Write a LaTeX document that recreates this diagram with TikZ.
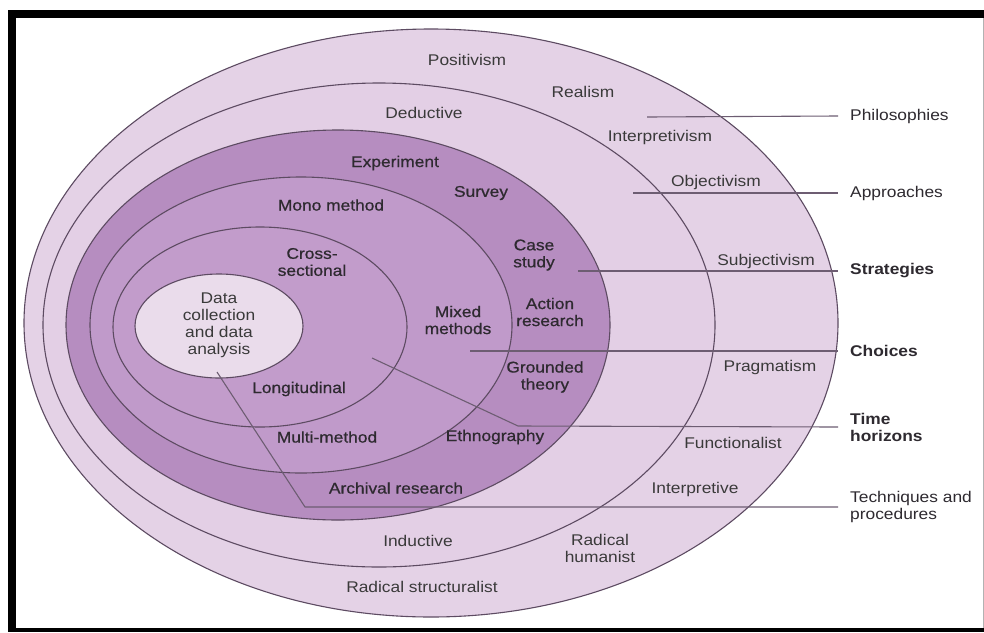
\documentclass[tikz,border=0pt]{standalone}
\usepackage{fontspec}
\setmainfont{Liberation Sans}[FakeStretch=1.12]
\newfontfamily\semibfam{Liberation Sans}[FakeStretch=1.12, FakeBold=0.7]
\definecolor{ringA}{HTML}{E4D2E6}
\definecolor{ringB}{HTML}{E3CFE5}
\definecolor{ringC}{HTML}{B68DC0}
\definecolor{ringD}{HTML}{C09ACA}
\definecolor{ringE}{HTML}{C29CCB}
\definecolor{core}{HTML}{EADCEB}
\definecolor{edge}{HTML}{5D4B62}
\definecolor{txt}{HTML}{3A3A3A}
\definecolor{txtdark}{HTML}{2E2A30}
\tikzset{
  lbl/.style={font=\fontsize{15.5}{17}\selectfont, text=txt, align=center, inner sep=0pt},
  inlbl/.style={lbl, font=\fontsize{15.5}{17}\selectfont\semibfam, text=txtdark},
  rlabel/.style={lbl, anchor=west, align=left, inner xsep=12pt, text=txtdark},
  ring/.style={draw=edge, line width=1.1pt},
  conn/.style={draw=edge!90, line width=1.1pt}
}
\begin{document}
\begin{tikzpicture}[x=1pt,y=-1pt]
\useasboundingbox (0,0) rectangle (984,632);
\fill[white] (0,0) rectangle (984,632);
% frame
\fill[black] (8,10) rectangle (984,18);
\fill[black] (8,10) rectangle (16,632);
\fill[black] (8,628) rectangle (984,632);
\draw[black!30, line width=1pt] (983,18) -- (983,628);
% onion layers
\path[ring, fill=ringA] (431,323) ellipse [x radius=407pt, y radius=294pt];
\path[ring, fill=ringB] (379,325) ellipse [x radius=336pt, y radius=242pt];
\path[ring, fill=ringC] (338,325) ellipse [x radius=272pt, y radius=195pt];
\path[ring, fill=ringD] (301,325) ellipse [x radius=211pt, y radius=148pt];
\path[ring, fill=ringE] (260,327) ellipse [x radius=147pt, y radius=100pt];
\path[ring, fill=core] (219,326) ellipse [x radius=84pt, y radius=52pt];
% right labels
\node[rlabel] (philo) at (838,116) {Philosophies};
\node[rlabel] (appr) at (838,193) {Approaches};
\node[rlabel, font=\fontsize{15.5}{17}\selectfont\bfseries] (strat) at (838,271) {Strategies};
\node[rlabel, font=\fontsize{15.5}{17}\selectfont\bfseries] (choice) at (838,351) {Choices};
\node[rlabel, font=\fontsize{15.5}{17}\selectfont\bfseries] (time) at (838,427) {Time\\horizons};
\node[rlabel] (tech) at (838,507) {Techniques and\\procedures};
% connector start points
\coordinate (cPhilo) at (647,117);
\coordinate (cAppr) at (633,193);
\coordinate (cStrat) at (578,271);
\coordinate (cChoice) at (470,351);
\coordinate (cTime) at (372,358);
\coordinate (kTime) at (518,426);
\coordinate (cTech) at (217,372);
\coordinate (kTech) at (305,507);
\draw[conn] (cPhilo) -- (philo.west);
\draw[conn] (cAppr) -- (appr.west);
\draw[conn] (cStrat) -- (strat.west);
\draw[conn] (cChoice) -- (choice.west);
\draw[conn] (cTime) -- (kTime) -- (time.west);
\draw[conn] (cTech) -- (kTech) -- (tech.west);
% layer texts
\node[lbl] (positivism) at (467,60) {Positivism};
\node[lbl] (realism) at (583,92) {Realism};
\node[lbl] (deductive) at (424,113) {Deductive};
\node[lbl] (interpretivism) at (660,137) {Interpretivism};
\node[inlbl] (experiment) at (395,163) {Experiment};
\node[lbl] (objectivism) at (716,182) {Objectivism};
\node[inlbl] (survey) at (481,193) {Survey};
\node[inlbl] (mono) at (331,205) {Mono method};
\node[inlbl] (cross) at (312,262) {Cross-\\sectional};
\node[inlbl] (casestudy) at (534,255) {Case\\study};
\node[lbl] (subjectivism) at (766,261) {Subjectivism};
\node[lbl] (datacoll) at (219,325) {Data\\collection\\and data\\analysis};
\node[inlbl] (mixed) at (458,320) {Mixed\\methods};
\node[inlbl] (action) at (550,312) {Action\\research};
\node[inlbl] (grounded) at (545,377) {Grounded\\theory};
\node[lbl] (pragmatism) at (770,367) {Pragmatism};
\node[inlbl] (longit) at (299,389) {Longitudinal};
\node[inlbl] (multi) at (327,437) {Multi-method};
\node[inlbl] (ethno) at (495,437) {Ethnography};
\node[lbl] (functionalist) at (733,443) {Functionalist};
\node[inlbl] (archival) at (396,488) {Archival research};
\node[lbl] (interpretive) at (695,489) {Interpretive};
\node[lbl] (inductive) at (418,541) {Inductive};
\node[lbl] (radhum) at (600,548) {Radical\\humanist};
\node[lbl] (radstruct) at (422,587) {Radical structuralist};
\end{tikzpicture}
\end{document}
